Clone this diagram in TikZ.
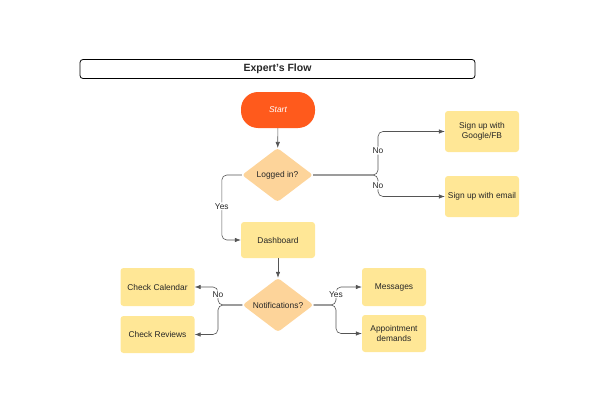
\documentclass[tikz,border=0pt]{standalone}
\usepackage{fontspec}
\setmainfont{Liberation Sans}
\usetikzlibrary{shapes.geometric,arrows.meta}
\definecolor{startc}{HTML}{FF5A1C}
\definecolor{diac}{HTML}{FDD49A}
\definecolor{boxc}{HTML}{FFE796}
\definecolor{linec}{HTML}{555555}
\tikzset{
  x=1pt,y=-1pt,
  every node/.style={font=\fontsize{8.4}{10}\selectfont, text=black!85},
  boxn/.style={fill=boxc, rounded corners=3pt, minimum width=74pt, align=center, inner sep=0pt},
  dian/.style={diamond, fill=diac, rounded corners=3pt, minimum width=71pt, minimum height=54pt, inner sep=0pt},
  conn/.style={draw=linec, line width=0.6pt, rounded corners=5pt},
  arr/.style={conn, -{Latex[length=6pt,width=4.5pt]}},
  lbl/.style={fill=white, inner sep=1pt}
}
\begin{document}
\begin{tikzpicture}
\useasboundingbox (0,0) rectangle (600,415);
\node[draw=black, line width=0.8pt, rounded corners=3pt, minimum width=395pt, minimum height=19pt, font=\fontsize{10.5}{12.5}\selectfont\bfseries] (title) at (277.5,69) {Expert's Flow};
\node[fill=startc, rounded corners=17pt, minimum width=74pt, minimum height=36pt, text=white, font=\fontsize{8.4}{10}\selectfont\itshape] (start) at (278,110) {Start};
\node[dian, label={center:Logged in?}] (login) at (277.5,175) {};
\node[boxn, minimum height=36pt] (dash) at (278,240) {Dashboard};
\node[boxn, minimum height=41pt] (google) at (482,131.5) {Sign up with\\Google/FB};
\node[boxn, minimum height=41pt] (email) at (482,196.5) {Sign up with email};
\node[dian, label={center:Notifications?}] (notif) at (278,305) {};
\node[boxn, minimum height=38pt] (cal) at (157.5,287) {Check Calendar};
\node[boxn, minimum height=37pt] (rev) at (157.5,334.5) {Check Reviews};
\node[boxn, minimum height=38pt, minimum width=64pt] (msg) at (394,287) {Messages};
\node[boxn, minimum height=37pt, minimum width=64pt] (appt) at (394,333.5) {Appointment\\demands};
\coordinate (b1) at (378,175);
\coordinate (b2) at (218,305);
\coordinate (b3) at (336,305);
\draw[arr] (start) -- (login);
\draw[arr] (dash) -- (notif);
\draw[arr] (login.west) -- ++(-20,0) |- (dash.west) node[pos=0.24, lbl] {Yes};
\draw[arr] (login.east) -- (b1) |- (google.west) node[pos=0.28, lbl] {No};
\draw[arr] (login.east) -- (b1) |- (email.west) node[pos=0.24, lbl] {No};
\draw[arr] (notif.west) -- (b2) |- (cal.east) node[pos=0.3, lbl] {No};
\draw[arr] (notif.west) -- (b2) |- (rev.east);
\draw[arr] (notif.east) -- (b3) |- (msg.west) node[pos=0.3, lbl] {Yes};
\draw[arr] (notif.east) -- (b3) |- (appt.west);
\end{tikzpicture}
\end{document}
